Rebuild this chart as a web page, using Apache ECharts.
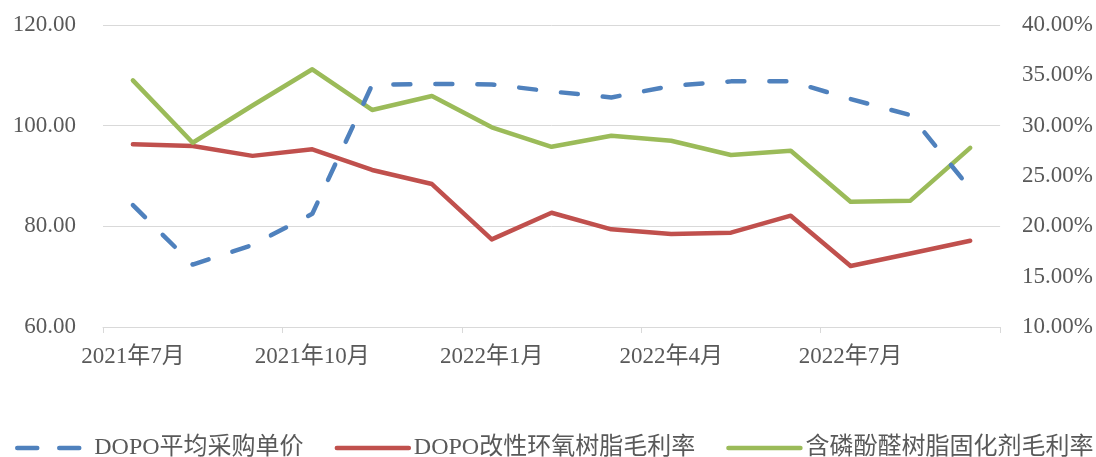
<!DOCTYPE html>
<html>
<head>
<meta charset="utf-8">
<script src="https://cdn.jsdelivr.net/npm/echarts@6/dist/echarts.min.js"></script>
<style>
html,body{margin:0;padding:0;background:#fff;}
#chart{width:1096px;height:457px;}
</style>
</head>
<body>
<div id="chart"></div>
<script>
var categories = ['2021年7月','2021年8月','2021年9月','2021年10月','2021年11月','2021年12月',
  '2022年1月','2022年2月','2022年3月','2022年4月','2022年5月','2022年6月','2022年7月','2022年8月','2022年9月'];
var dopoPrice = [84.2, 72.4, 76.3, 82.5, 108.1, 108.3, 108.2, 106.8, 105.6, 107.9, 108.8, 108.8, 105.3, 102.1, 87.5];
var epoxyMargin = [28.15, 27.98, 27.0, 27.65, 25.6, 24.2, 18.7, 21.35, 19.7, 19.24, 19.37, 21.06, 16.06, 17.3, 18.57];
var phenolicMargin = [34.5, 28.3, 32.0, 35.6, 31.56, 32.95, 29.84, 27.9, 29.0, 28.5, 27.09, 27.5, 22.45, 22.55, 27.8];
var seriesNames = ['DOPO平均采购单价', 'DOPO改性环氧树脂毛利率', '含磷酚醛树脂固化剂毛利率'];

var FONT = "'Liberation Serif', 'Times New Roman', 'Noto Sans CJK SC', serif";
var TXT = '#595959';
var chart = echarts.init(document.getElementById('chart'));
chart.setOption({
  animation: false,
  textStyle: {fontFamily: FONT},
  grid: {left: 103, right: 95, top: 25, bottom: 130, containLabel: false},
  legend: {
    top: 436,
    left: 15,
    width: 1081,
    itemWidth: 72,
    itemHeight: 14,
    itemGap: 31,
    padding: 0,
    itemStyle: {opacity: 0},
    lineStyle: {width: 4.5},
    textStyle: {fontFamily: FONT, fontSize: 24, color: TXT},
    data: [
      {name: seriesNames[0], lineStyle: {width: 4.5, type: [20, 22]}},
      {name: seriesNames[1]},
      {name: seriesNames[2]}
    ]
  },
  xAxis: [{
    type: 'category',
    data: categories,
    boundaryGap: true,
    axisLine: {lineStyle: {color: '#d9d9d9', width: 1}},
    axisTick: {show: false},
    axisLabel: {interval: 2, fontFamily: FONT, fontSize: 23, color: TXT, margin: 18}
  }, {
    type: 'value',
    position: 'bottom',
    min: 0, max: 15, interval: 3,
    axisLine: {show: false},
    axisTick: {show: true, length: 6, lineStyle: {color: '#d9d9d9'}},
    axisLabel: {show: false},
    splitLine: {show: false}
  }],
  yAxis: [{
    type: 'value',
    min: 60, max: 120, interval: 20,
    axisLine: {show: false},
    axisTick: {show: false},
    splitLine: {show: true, lineStyle: {color: '#d9d9d9', width: 1}},
    axisLabel: {fontFamily: FONT, fontSize: 23, color: TXT, margin: 27,
      formatter: function (v) { return v.toFixed(2); }}
  }, {
    type: 'value',
    min: 10, max: 40, interval: 5,
    axisLine: {show: false},
    axisTick: {show: false},
    splitLine: {show: false},
    axisLabel: {fontFamily: FONT, fontSize: 23, color: TXT, margin: 22,
      formatter: function (v) { return v.toFixed(2) + '%'; }}
  }],
  series: [{
    name: seriesNames[0],
    type: 'line',
    xAxisIndex: 0,
    yAxisIndex: 0,
    data: dopoPrice,
    symbol: 'none',
    itemStyle: {color: '#4f81bd'},
    lineStyle: {color: '#4f81bd', width: 4.5, type: [17, 25], cap: 'round', join: 'round'},
    z: 3
  }, {
    name: seriesNames[1],
    type: 'line',
    xAxisIndex: 0,
    yAxisIndex: 1,
    data: epoxyMargin,
    symbol: 'none',
    itemStyle: {color: '#c0504d'},
    lineStyle: {color: '#c0504d', width: 4.5, cap: 'round', join: 'round'},
    z: 2
  }, {
    name: seriesNames[2],
    type: 'line',
    xAxisIndex: 0,
    yAxisIndex: 1,
    data: phenolicMargin,
    symbol: 'none',
    itemStyle: {color: '#9bbb59'},
    lineStyle: {color: '#9bbb59', width: 4.5, cap: 'round', join: 'round'},
    z: 2
  }]
});
</script>
</body>
</html>
